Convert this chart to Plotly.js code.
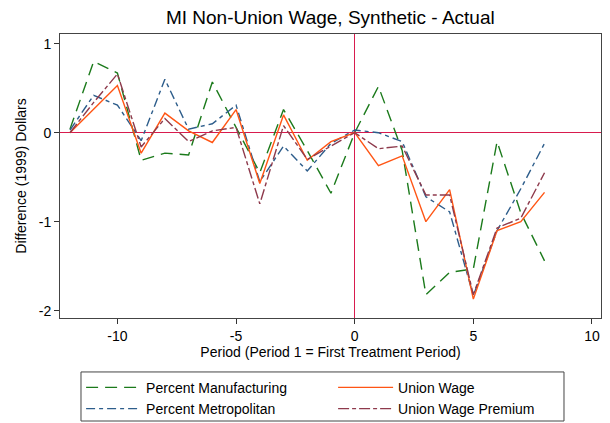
<!DOCTYPE html>
<html>
<head>
<meta charset="utf-8">
<script src="https://cdn.plot.ly/plotly-3.0.1.min.js"></script>
<style>html,body{margin:0;padding:0;background:#fff;} #chart{width:610px;height:423px;}</style>
</head>
<body>
<div id="chart"></div>
<script>
const periods = [-12,-11,-10,-9,-8,-7,-6,-5,-4,-3,-2,-1,0,1,2,3,4,5,6,7,8];
const pctManufacturing = [0.04,0.80,0.67,-0.31,-0.23,-0.25,0.57,0.06,-0.45,0.26,-0.20,-0.68,0.0,0.52,-0.20,-1.82,-1.57,-1.53,-0.10,-0.90,-1.44];
const pctMetropolitan = [0.03,0.42,0.31,-0.09,0.60,0.04,0.10,0.31,-0.55,-0.15,-0.43,-0.12,0.03,0.0,-0.10,-0.72,-0.89,-1.83,-1.10,-0.63,-0.12];
const unionWage = [0.0,0.27,0.53,-0.23,0.22,0.02,-0.11,0.26,-0.57,0.20,-0.31,-0.10,0.0,-0.37,-0.26,-1.0,-0.64,-1.87,-1.10,-1.0,-0.67];
const unionWagePremium = [0.0,0.34,0.66,-0.16,0.16,-0.10,0.02,0.06,-0.80,0.08,-0.30,-0.15,0.0,-0.18,-0.15,-0.70,-0.70,-1.82,-1.07,-0.96,-0.45];
const seriesNames = ["Percent Manufacturing","Percent Metropolitan","Union Wage","Union Wage Premium"];
const xTicks = [-10,-5,0,5,10];
const yTicks = [-2,-1,0,1];

const font = "Liberation Sans, Arial, Helvetica, sans-serif";
const traces = [
  {x: periods, y: pctManufacturing, name: seriesNames[0], legendrank: 1,
   line: {color: "#1b7a1b", width: 1.4, dash: "12px,7px"}},
  {x: periods, y: pctMetropolitan, name: seriesNames[1], legendrank: 3,
   line: {color: "#2d5d8b", width: 1.4, dash: "9px,4px,4px,4px"}},
  {x: periods, y: unionWage, name: seriesNames[2], legendrank: 2,
   line: {color: "#ff5514", width: 1.4}},
  {x: periods, y: unionWagePremium, name: seriesNames[3], legendrank: 4,
   line: {color: "#8e3a4c", width: 1.4, dash: "11px,3px,4px,3px"}}
].map(t => Object.assign({type: "scatter", mode: "lines"}, t));

const layout = {
  width: 610, height: 423,
  margin: {l: 60, r: 9, t: 34, b: 105},
  paper_bgcolor: "#fff", plot_bgcolor: "#fff",
  font: {family: font, color: "#000", size: 14},
  title: {text: "MI Non-Union Wage, Synthetic - Actual", font: {size: 19, family: font, color: "#000"},
          x: 0.5415, xanchor: "center", y: 0.958, yanchor: "middle"},
  xaxis: {range: [-12.42, 10.38], tickvals: xTicks, ticktext: xTicks.map(String),
          ticks: "outside", ticklen: 5, tickcolor: "#333", tickfont: {size: 14},
          showgrid: false, zeroline: true, zerolinecolor: "#d81b4e", zerolinewidth: 1.5,
          showline: true, linecolor: "#444", linewidth: 1, mirror: true,
          title: {text: "Period (Period 1 = First Treatment Period)", font: {size: 14}, standoff: 4}},
  yaxis: {range: [-2.082, 1.109], tickvals: yTicks, ticktext: yTicks.map(String),
          ticks: "outside", ticklen: 5, tickcolor: "#333", tickfont: {size: 14},
          showgrid: false, zeroline: true, zerolinecolor: "#d81b4e", zerolinewidth: 1.5,
          showline: true, linecolor: "#444", linewidth: 1, mirror: true,
          title: {text: "Difference (1999) Dollars", font: {size: 14}, standoff: 8}},
  showlegend: true,
  legend: {orientation: "h", x: 0.039, xanchor: "left", yref: "container", y: 0.121, yanchor: "top",
           entrywidth: 182, traceorder: "normal", borderwidth: 0, bgcolor: "rgba(0,0,0,0)",
           font: {size: 14}, itemwidth: 55, tracegroupgap: 0},
  shapes: [{type: "rect", xref: "paper", yref: "paper", x0: 0.0388, x1: 0.9316, y0: -0.190, y1: -0.3627,
            line: {color: "#444", width: 1}, fillcolor: "rgba(0,0,0,0)", layer: "above"}]
};

Plotly.newPlot("chart", traces, layout, {displayModeBar: false, staticPlot: true});
</script>
</body>
</html>
